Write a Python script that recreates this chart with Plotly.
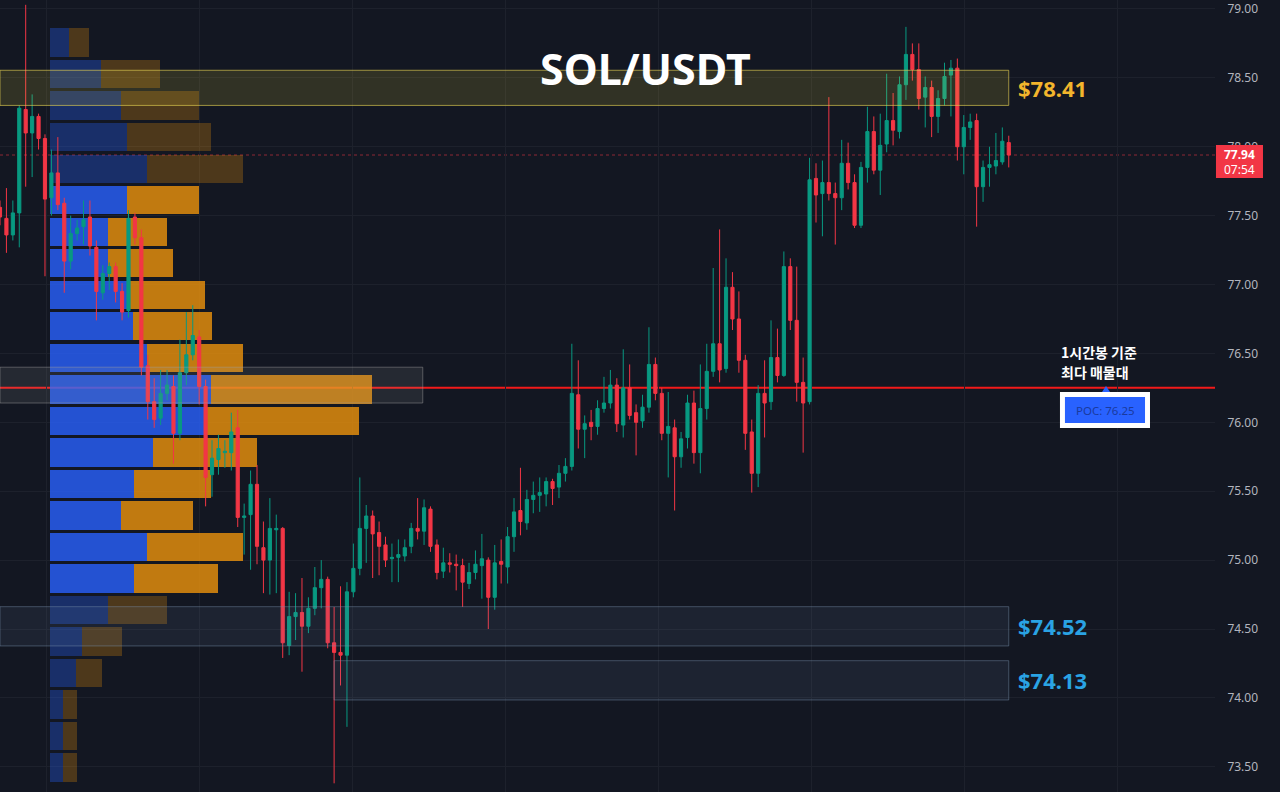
import plotly.graph_objects as go

# ---------------- data ----------------
opens = [77.56, 77.48, 77.36, 77.52, 78.27, 78.10, 78.22, 78.06, 77.63, 77.81,
         77.59, 77.17, 77.37, 77.42, 77.49, 77.27, 76.94, 77.08, 77.13, 76.95,
         76.81, 77.49, 77.34, 76.41, 76.15, 76.03, 76.21, 76.26, 75.92, 76.36,
         76.49, 76.62, 76.26, 75.62, 75.73, 75.78, 75.78, 75.96, 75.31, 75.33,
         75.55, 75.09, 75.00, 75.22, 75.23, 74.38, 74.59, 74.62, 74.52, 74.65,
         74.80, 74.86, 74.40, 74.33, 74.31, 74.77, 74.94, 75.23, 75.32, 75.20,
         75.11, 75.01, 75.02, 75.03, 75.10, 75.23, 75.21, 75.37, 75.11, 74.92,
         74.98, 74.97, 74.96, 74.83, 74.91, 74.96, 75.00, 74.73, 74.99, 74.95,
         75.17, 75.36, 75.27, 75.44, 75.47, 75.48, 75.57, 75.53, 75.63, 75.68,
         76.20, 75.95, 76.00, 75.97, 76.10, 76.14, 76.27, 75.98, 76.25, 76.07,
         76.01, 76.11, 76.42, 76.21, 75.92, 75.96, 75.75, 75.89, 76.14, 75.78,
         76.10, 76.37, 76.57, 76.39, 76.98, 76.75, 76.45, 75.93, 75.63, 76.21,
         76.15, 76.47, 76.34, 77.13, 76.74, 76.29, 76.15, 77.77, 77.66, 77.74,
         77.66, 77.63, 77.88, 77.74, 77.43, 77.85, 78.11, 77.83, 78.02, 78.19,
         78.11, 78.45, 78.67, 78.56, 78.36, 78.43, 78.22, 78.35, 78.52, 78.57,
         78.00, 78.14, 78.19, 77.71, 77.85, 77.86, 77.89, 78.03]
highs = [77.61, 77.70, 77.61, 78.30, 79.03, 78.38, 78.24, 78.09, 77.98, 78.07,
         77.63, 77.50, 77.47, 77.61, 77.61, 77.32, 77.14, 77.16, 77.16, 77.01,
         77.54, 77.52, 77.40, 76.49, 76.32, 76.38, 76.38, 76.34, 76.60, 76.80,
         76.85, 76.67, 76.31, 75.87, 75.91, 75.87, 76.07, 76.09, 75.41, 75.65,
         75.69, 75.28, 75.45, 75.33, 75.24, 74.77, 74.76, 74.87, 74.73, 74.95,
         75.00, 74.88, 74.66, 74.81, 74.84, 75.12, 75.60, 75.40, 75.36, 75.28,
         75.17, 75.12, 75.15, 75.15, 75.27, 75.45, 75.44, 75.39, 75.15, 75.09,
         75.05, 75.04, 75.01, 74.98, 75.07, 75.19, 75.02, 75.11, 75.15, 75.24,
         75.45, 75.67, 75.51, 75.57, 75.60, 75.60, 75.59, 75.69, 75.74, 76.57,
         76.45, 76.05, 76.09, 76.16, 76.33, 76.38, 76.32, 76.53, 76.42, 76.13,
         76.20, 76.69, 76.47, 76.25, 76.22, 76.02, 75.93, 76.20, 76.23, 76.42,
         76.57, 77.12, 77.40, 77.19, 77.09, 76.95, 76.49, 76.02, 76.27, 76.45,
         76.74, 76.68, 77.24, 77.19, 77.13, 76.47, 77.92, 77.88, 77.90, 78.36,
         77.74, 78.05, 78.03, 77.80, 77.89, 78.29, 78.22, 78.24, 78.53, 78.39,
         78.51, 78.87, 78.75, 78.75, 78.51, 78.48, 78.41, 78.61, 78.63, 78.64,
         78.23, 78.24, 78.24, 77.90, 78.00, 78.10, 78.14, 78.08]
lows = [77.43, 77.23, 77.32, 77.27, 77.71, 77.78, 77.98, 77.06, 77.50, 77.54,
        76.94, 77.11, 77.32, 77.29, 77.21, 76.74, 76.89, 76.96, 76.87, 76.74,
        76.76, 77.29, 76.34, 76.02, 75.96, 75.98, 76.16, 75.70, 75.87, 76.27,
        76.45, 76.13, 75.39, 75.46, 75.62, 75.67, 75.65, 75.24, 75.04, 74.93,
        74.97, 74.76, 74.75, 74.76, 74.29, 74.31, 74.42, 74.19, 74.47, 74.60,
        74.65, 74.36, 73.38, 74.09, 73.79, 74.73, 74.89, 74.98, 74.87, 74.89,
        74.95, 74.84, 74.84, 74.99, 75.05, 75.15, 75.11, 75.06, 74.86, 74.87,
        74.91, 74.78, 74.66, 74.79, 74.86, 74.72, 74.50, 74.64, 74.83, 74.83,
        75.06, 75.18, 75.22, 75.34, 75.35, 75.39, 75.40, 75.45, 75.57, 75.65,
        75.81, 75.74, 75.87, 75.91, 76.07, 76.10, 75.93, 75.89, 76.02, 75.76,
        75.96, 76.07, 76.16, 75.87, 75.60, 75.36, 75.67, 75.81, 75.70, 75.63,
        76.02, 76.33, 76.29, 76.36, 76.67, 76.36, 75.80, 75.49, 75.53, 75.89,
        76.09, 76.29, 76.33, 76.67, 76.15, 75.78, 76.13, 77.45, 77.35, 77.61,
        77.29, 77.54, 77.69, 77.41, 77.41, 77.74, 77.80, 77.65, 77.96, 78.01,
        78.06, 78.34, 78.48, 78.27, 78.14, 78.07, 78.10, 78.30, 78.22, 77.90,
        77.80, 78.05, 77.42, 77.60, 77.71, 77.80, 77.87, 77.85]
closes = [77.49, 77.36, 77.52, 78.28, 78.10, 78.22, 78.06, 77.62, 77.81, 77.58,
          77.17, 77.37, 77.41, 77.47, 77.28, 76.95, 77.08, 77.13, 76.95, 76.80,
          77.48, 77.34, 76.40, 76.15, 76.02, 76.21, 76.27, 75.92, 76.36, 76.49,
          76.63, 76.26, 75.60, 75.74, 75.81, 75.79, 75.93, 75.31, 75.32, 75.55,
          75.10, 75.00, 75.23, 75.23, 74.40, 74.59, 74.62, 74.52, 74.65, 74.80,
          74.86, 74.40, 74.33, 74.31, 74.77, 74.94, 75.23, 75.32, 75.19, 75.10,
          75.00, 75.02, 75.04, 75.09, 75.23, 75.21, 75.38, 75.10, 74.91, 74.98,
          74.97, 74.96, 74.84, 74.91, 74.97, 75.01, 74.73, 74.98, 74.97, 75.17,
          75.35, 75.28, 75.44, 75.47, 75.49, 75.57, 75.52, 75.63, 75.68, 76.21,
          75.95, 75.99, 75.97, 76.10, 76.14, 76.27, 75.99, 76.25, 76.05, 76.00,
          76.11, 76.42, 76.21, 75.92, 75.97, 75.75, 75.88, 76.14, 75.78, 76.10,
          76.37, 76.57, 76.38, 76.98, 76.75, 76.45, 75.92, 75.63, 76.21, 76.14,
          76.47, 76.34, 77.13, 76.74, 76.29, 76.14, 77.76, 77.65, 77.74, 77.66,
          77.63, 77.88, 77.74, 77.43, 77.85, 78.11, 77.83, 78.01, 78.19, 78.12,
          78.45, 78.67, 78.56, 78.35, 78.43, 78.22, 78.35, 78.51, 78.57, 78.00,
          78.14, 78.18, 77.71, 77.85, 77.87, 77.90, 78.04, 77.94]
candle_idx = list(range(len(opens)))

# volume profile (24 rows, bottom -> top)
profile_low = 73.38
profile_high = 78.87
buy_vol = [13, 13, 13, 26, 32, 58, 84, 97, 71, 84, 103, 157,
           161, 97, 83, 78, 58, 58, 77, 97, 77, 71, 51, 19]
sell_vol = [14, 14, 14, 26, 40, 59, 84, 96, 72, 77, 104, 152,
            161, 96, 79, 77, 65, 59, 72, 96, 84, 78, 59, 20]
value_area_rows = (6, 18)

poc_price = 76.25
last_price = 77.94
countdown = "07:54"

zone_res = (78.30, 78.555)
zone_poc = (76.14, 76.40)
zone_sup1 = (74.377, 74.662)
zone_sup2 = (73.985, 74.27)
zone_texts = ["$78.41", "$74.52", "$74.13"]

y_tickvals = [73.5, 74.0, 74.5, 75.0, 75.5, 76.0, 76.5, 77.0, 77.5, 78.0, 78.5, 79.0]

# ---------------- styling ----------------
BG = "#131722"
GRID = "#1d212c"
UP = "#089981"
DOWN = "#f23645"

n_rows = len(buy_vol)
row_h = (profile_high - profile_low) / n_rows
row_centers = [profile_low + (j + 0.5) * row_h for j in range(n_rows)]
in_va = [value_area_rows[0] <= j <= value_area_rows[1] for j in range(n_rows)]
buy_colors = ["rgba(41,98,255,0.80)" if v else "rgba(41,98,255,0.32)" for v in in_va]
sell_colors = ["rgba(238,147,12,0.80)" if v else "rgba(238,147,12,0.27)" for v in in_va]

fig = go.Figure()

fig.add_trace(go.Bar(
    y=row_centers, x=buy_vol, orientation="h", width=row_h * 0.9,
    marker=dict(color=buy_colors, line=dict(width=0)),
    xaxis="x", yaxis="y", hoverinfo="skip", showlegend=False))
fig.add_trace(go.Bar(
    y=row_centers, x=sell_vol, orientation="h", width=row_h * 0.9,
    marker=dict(color=sell_colors, line=dict(width=0)),
    xaxis="x", yaxis="y", hoverinfo="skip", showlegend=False))

fig.add_trace(go.Candlestick(
    x=candle_idx, open=opens, high=highs, low=lows, close=closes,
    xaxis="x2", yaxis="y",
    increasing=dict(line=dict(color=UP, width=1), fillcolor=UP),
    decreasing=dict(line=dict(color=DOWN, width=1), fillcolor=DOWN),
    whiskerwidth=0, showlegend=False, hoverinfo="skip"))

last_x = candle_idx[-1]
shapes = [
    dict(type="line", xref="paper", x0=0, x1=1, yref="y", y0=poc_price, y1=poc_price,
         line=dict(color="#f21a1a", width=2), layer="between"),
    dict(type="line", xref="paper", x0=0, x1=1, yref="y", y0=last_price, y1=last_price,
         line=dict(color="rgba(242,54,69,0.55)", width=1, dash="dot"), layer="between"),
    dict(type="rect", xref="x2", x0=0, x1=last_x, yref="y", y0=zone_res[0], y1=zone_res[1],
         fillcolor="rgba(255,235,59,0.13)", line=dict(color="rgba(225,205,80,0.65)", width=1),
         layer="above"),
    dict(type="rect", xref="x2", x0=0, x1=65.8, yref="y", y0=zone_poc[0], y1=zone_poc[1],
         fillcolor="rgba(170,170,170,0.12)", line=dict(color="rgba(160,160,160,0.45)", width=1),
         layer="above"),
    dict(type="rect", xref="x2", x0=0, x1=last_x, yref="y", y0=zone_sup1[0], y1=zone_sup1[1],
         fillcolor="rgba(120,150,185,0.10)", line=dict(color="rgba(120,145,170,0.45)", width=1),
         layer="above"),
    dict(type="rect", xref="x2", x0=52, x1=last_x, yref="y", y0=zone_sup2[0], y1=zone_sup2[1],
         fillcolor="rgba(120,150,185,0.10)", line=dict(color="rgba(120,145,170,0.45)", width=1),
         layer="above"),
    # POC label box
    dict(type="rect", xref="paper", yref="paper", x0=0.8724, x1=0.9465, y0=0.4596, y1=0.5051,
         fillcolor="#ffffff", line=dict(width=0), layer="above"),
    dict(type="rect", xref="paper", yref="paper", x0=0.8765, x1=0.9424, y0=0.4659, y1=0.4987,
         fillcolor="#2962ff", line=dict(width=0), layer="above"),
    dict(type="path", xref="paper", yref="paper",
         path="M 0.9070 0.5051 L 0.9136 0.5051 L 0.9103 0.5126 Z",
         fillcolor="#2962ff", line=dict(width=0), layer="above"),
    # last price tag
    dict(type="rect", xref="paper", yref="paper", x0=1.0008, x1=1.0395, y0=0.7753, y1=0.8169,
         fillcolor=DOWN, line=dict(width=0), layer="above"),
]

FONT = "Noto Sans"
KR = "Noto Sans CJK KR"


def ann(text, x, y, size, color, xref="paper", yref="paper", xanchor="center",
        weight="normal", family=FONT):
    return dict(text=text, xref=xref, yref=yref, x=x, y=y, xanchor=xanchor,
                yanchor="middle", showarrow=False,
                font=dict(family=family, size=size, color=color, weight=weight))


annotations = [
    ann("SOL/USDT", 0.5309, 0.9141, 43, "#ffffff", weight="bold"),
    ann(zone_texts[0], 0.836, sum(zone_res) / 2, 22, "#f2b52c", yref="y",
        xanchor="left", weight="bold"),
    ann(zone_texts[1], 0.836, sum(zone_sup1) / 2, 22, "#2aa3e4", yref="y",
        xanchor="left", weight="bold"),
    ann(zone_texts[2], 0.836, sum(zone_sup2) / 2, 22, "#2aa3e4", yref="y",
        xanchor="left", weight="bold"),
    ann("1시간봉 기준", 0.8715, 0.5556, 14, "#ffffff", xanchor="left",
        weight="bold", family=KR),
    ann("최다 매물대", 0.8715, 0.5303, 14, "#ffffff", xanchor="left",
        weight="bold", family=KR),
    ann(f"POC: {poc_price:.2f}", 0.9095, 0.4823, 11.5, "#1a3a9e"),
    ann(f"{last_price:.2f}", 1.0202, 0.8043, 12, "#ffffff", weight="bold"),
    ann(countdown, 1.0202, 0.7854, 12, "#ffffff"),
]

fig.update_layout(
    width=1280, height=792,
    margin=dict(l=0, r=65, t=0, b=0),
    paper_bgcolor=BG, plot_bgcolor=BG,
    barmode="stack", bargap=0,
    showlegend=False,
    xaxis=dict(range=[-50, 1165], visible=False, fixedrange=True),
    xaxis2=dict(overlaying="x", anchor="y", range=[0, 189.1],
                showgrid=True, gridcolor=GRID, gridwidth=1,
                tick0=7.3, dtick=23.8, showticklabels=False, ticks="",
                zeroline=False, rangeslider=dict(visible=False)),
    yaxis=dict(side="right", range=[73.317, 79.065],
               tickvals=y_tickvals, ticktext=[f"{v:.2f}" for v in y_tickvals],
               showgrid=True, gridcolor=GRID, gridwidth=1, zeroline=False,
               ticks="outside", ticklen=9, tickcolor="rgba(0,0,0,0)",
               tickfont=dict(family=FONT, size=12, color="#b2b5be")),
    shapes=shapes,
    annotations=annotations,
)

fig.write_html("out.html")
